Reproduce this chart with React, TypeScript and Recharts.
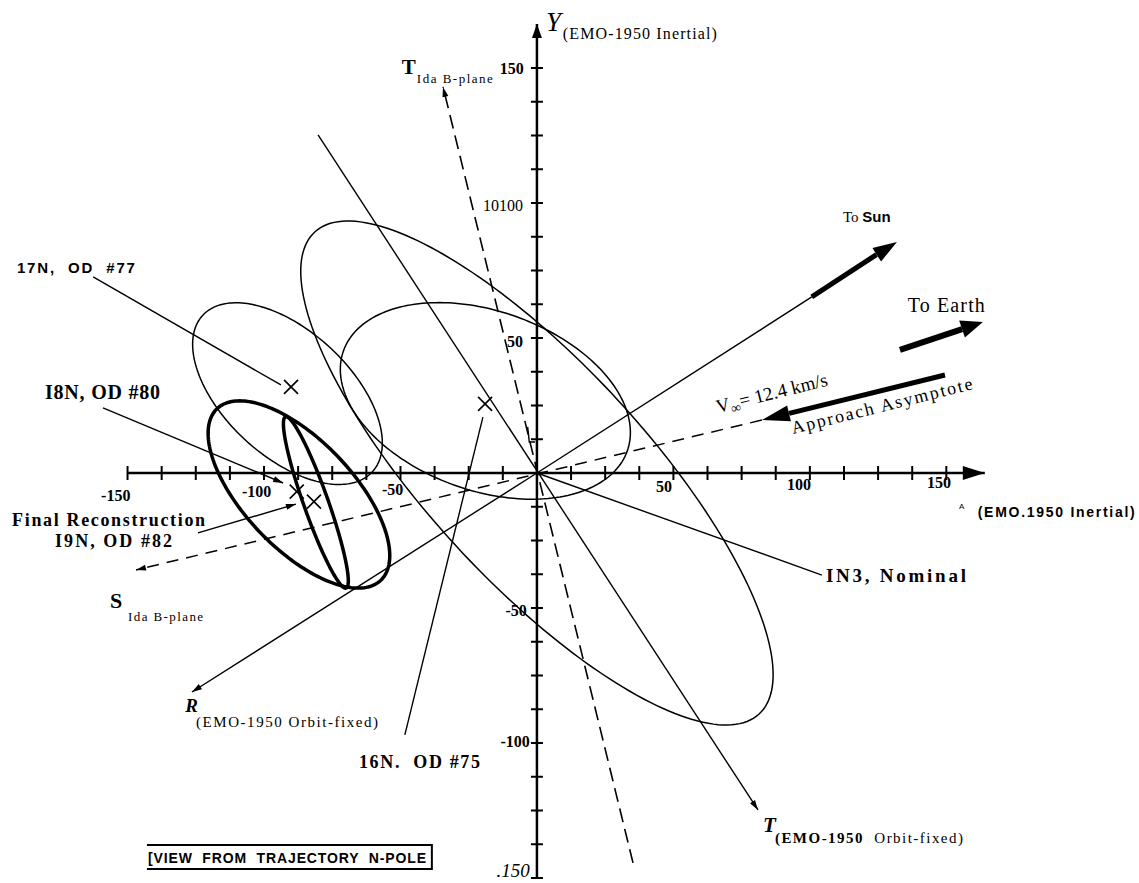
import React from 'react';
import { ComposedChart, Line, Scatter, XAxis, YAxis } from 'recharts';

const CHART_W = 1139;
const CHART_H = 883;
const MARGIN = { top: 14, right: 18, bottom: 5, left: 2 };
const X_DOMAIN: [number, number] = [-196, 214];
const Y_DOMAIN: [number, number] = [-150, 170];
const KX = (CHART_W - MARGIN.left - MARGIN.right) / (X_DOMAIN[1] - X_DOMAIN[0]);
const KY = (CHART_H - MARGIN.top - MARGIN.bottom) / (Y_DOMAIN[1] - Y_DOMAIN[0]);

const SERIF = '"Liberation Serif", "Times New Roman", serif';
const SANS = '"Liberation Sans", Arial, sans-serif';

// ---- axis ticks (km) ----
const xTicks = [-150, -137.5, -125, -112.5, -100, -87.5, -75, -62.5, -50, -37.5, -25, -12.5,
  12.5, 25, 37.5, 50, 62.5, 75, 87.5, 100, 112.5, 125, 137.5, 150];
const yTicks = [-150, -137.5, -125, -112.5, -100, -87.5, -75, -62.5, -50, -37.5, -25, -12.5,
  12.5, 25, 37.5, 50, 62.5, 75, 87.5, 100, 112.5, 125, 137.5, 150];

// ---- B-plane error ellipses (center, semi-axes in km, tilt in degrees) ----
const ellipseNames = ['IN3, Nominal', '16N, OD #75', '17N, OD #77', '18N, OD #80', '19N, OD #82'];
const ellipseCX = [0, -18.9, -91.4, -87.2, -81.0];
const ellipseCY = [0, 26.7, 29.4, -7.95, -10.9];
const ellipseA = [120.8, 55.2, 42.5, 43.7, 33.6];
const ellipseB = [40.1, 33.2, 23.1, 20.0, 4.5];
const ellipseTilt = [-47.7, -19.8, -43.3, -46.8, -70.7];
const ellipseKind = ['thin', 'thin', 'thin', 'bold', 'bold'];

// ---- aim-point solutions (X marks) ----
const solutionNames = ['16N, OD #75', '17N, OD #77', '18N, OD #80', '19N, OD #82'];
const solutionX = [-19.0, -90.1, -88.0, -81.7];
const solutionY = [25.6, 31.9, -6.9, -10.6];

// ---- straight lines (km) ----
type Seg = { id: string; pts: [number, number][]; kind: string };
const segments: Seg[] = [
  { id: 'X axis', pts: [[-150, 0], [164.1, 0]], kind: 'axis' },
  { id: 'Y axis', pts: [[0, -150], [0, 166.3]], kind: 'axis' },
  { id: 'T Ida B-plane', pts: [[35.2, -144.4], [-34.4, 143]], kind: 'dashT' },
  { id: 'T Ida mark', pts: [[-3.4, 17.1], [-2.8, 11.5], [-0.7, 11.5]], kind: 'thin' },
  { id: 'T orbit-fixed', pts: [[-80.2, 125.2], [81, -124.8]], kind: 'thin' },
  { id: 'R orbit-fixed', pts: [[0, 0], [-126.4, -81.1]], kind: 'thin' },
  { id: 'S Ida B-plane / asymptote', pts: [[82.4, 19.6], [-146.9, -35.9]], kind: 'dashS' },
  { id: 'To Sun', pts: [[0, 0], [100.7, 65.2]], kind: 'thin' },
  { id: 'To Sun shaft', pts: [[100.7, 65.2], [124.4, 80.9]], kind: 'thick' },
  { id: 'To Earth shaft', pts: [[133, 45.6], [155.8, 53.3]], kind: 'thicker' },
  { id: 'Approach shaft', pts: [[149.5, 36.3], [92.4, 22.1]], kind: 'thick' },
  { id: 'IN3 leader', pts: [[0, 0], [104.4, -37.8]], kind: 'thin' },
  { id: '16N leader', pts: [[-48.4, -97], [-19.8, 20.7]], kind: 'thin' },
  { id: '17N leader', pts: [[-162.6, 72.6], [-93.8, 32.6]], kind: 'thin' },
  { id: '18N leader', pts: [[-159, 24.1], [-93, -3.7]], kind: 'thin' },
  { id: '19N leader', pts: [[-124.2, -22.2], [-88.3, -11.5]], kind: 'thin' },
  { id: 'view box', pts: [[-142.9, -137.8], [-38.5, -137.8], [-38.5, -146.7], [-142.9, -146.7]], kind: 'box' },
];

// ---- arrow heads: tip and the point they come from ----
const arrows = [
  { x: 164.1, y: 0, fx: 0, fy: 0, kind: 'axisX' },
  { x: 0, y: 166.3, fx: 0, fy: 0, kind: 'axisY' },
  { x: -34.4, y: 143, fx: 0, fy: 0, kind: 'small' },
  { x: 81, y: -124.8, fx: 0, fy: 0, kind: 'small' },
  { x: -126.4, y: -81.1, fx: 0, fy: 0, kind: 'small' },
  { x: -146.9, y: -35.9, fx: 0, fy: 0, kind: 'small' },
  { x: 131.9, y: 85.6, fx: 0, fy: 0, kind: 'sun' },
  { x: 163.4, y: 55.9, fx: 133, fy: 45.6, kind: 'earth' },
  { x: 82.4, y: 19.6, fx: 149.5, fy: 36.3, kind: 'approach' },
  { x: -93, y: -3.7, fx: -159, fy: 24.1, kind: 'small' },
  { x: -88.3, y: -11.5, fx: -124.2, fy: -22.2, kind: 'small' },
];

// ---- text annotations ----
type Run = { t: string; size?: number; weight?: string; family?: string; dy?: number };
type Label = { x: number; y: number; text?: string; runs?: Run[]; style: string; anchor?: 'start' | 'end'; len?: number; rot?: number; dy?: number };
const xTickLabels: Label[] = [
  { x: -159.7, y: -10.4, text: '-150', style: 'tick' },
  { x: -108.1, y: -8.9, text: '-100', style: 'tick' },
  { x: -56.8, y: -8.1, text: '-50', style: 'tick' },
  { x: 43.6, y: -7.0, text: '50', style: 'tick' },
  { x: 91.6, y: -6.3, text: '100', style: 'tick' },
  { x: 142.9, y: -5.6, text: '150', style: 'tick' },
];
const yTickLabels: Label[] = [
  { x: -4.8, y: 147.8, text: '150', style: 'tick', anchor: 'end' },
  { x: -5.1, y: 97.0, text: '10100', style: 'tickPlain', anchor: 'end' },
  { x: -5.1, y: 46.7, text: '50', style: 'tick', anchor: 'end' },
  { x: -3.7, y: -53.0, text: '-50', style: 'tick', anchor: 'end' },
  { x: -2.6, y: -101.5, text: '-100', style: 'tick', anchor: 'end' },
  { x: -2.6, y: -150, text: '.150', style: 'tickItalic', anchor: 'end', dy: -1 },
];
const annotations: Label[] = [
  { x: 3.3, y: 163.7, text: 'Y', style: 'axisY' },
  { x: 9.5, y: 160.7, text: '(EMO-1950 Inertial)', style: 'sub', len: 154 },
  { x: -49.5, y: 147.8, text: 'T', style: 'axisTIda' },
  { x: -44.0, y: 144.4, text: 'Ida B-plane', style: 'subSmall', len: 76 },
  { x: 154.6, y: -13.3, text: 'A', style: 'tiny' },
  { x: 161.5, y: -16.3, text: '(EMO.1950 Inertial)', style: 'sansBold', len: 157 },
  { x: 112.1, y: 93.0, runs: [{ t: 'To ' }, { t: 'Sun', family: SANS, weight: 'bold' }], style: 'toSun' },
  { x: 135.9, y: 59.6, text: 'To Earth', style: 'note', len: 77 },
  { x: 66.3, y: 22.2, runs: [{ t: 'V' }, { t: '\u221E', size: 14, dy: 4 }, { t: '= 12.4 km/s', dy: -4 }], style: 'noteRot19', rot: -14 },
  { x: 93.8, y: 14.4, text: 'Approach Asymptote', style: 'noteRot', rot: -14, len: 186 },
  { x: -147.3, y: 74.1, text: '17N,  OD  #77', style: 'caseSans', anchor: 'end', len: 118 },
  { x: -138.1, y: 27.4, text: 'I8N, OD #80', style: 'caseBold', anchor: 'end', len: 115 },
  { x: -121.6, y: -19.6, text: 'Final Reconstruction', style: 'caseBold18', anchor: 'end', len: 193 },
  { x: -133.7, y: -27.4, text: 'I9N, OD #82', style: 'caseBold18', anchor: 'end', len: 117 },
  { x: -156.4, y: -50, text: 'S', style: 'axisS' },
  { x: -149.8, y: -54.8, text: 'Ida B-plane', style: 'subSmall', len: 75 },
  { x: -128.9, y: -88.5, text: 'R', style: 'axisR' },
  { x: -124.9, y: -94.1, text: '(EMO-1950 Orbit-fixed)', style: 'sub15', len: 182 },
  { x: -65.2, y: -109.3, text: '16N.  OD #75', style: 'caseBold18', len: 121 },
  { x: 105.9, y: -40.4, text: 'IN3, Nominal', style: 'caseBold19', len: 140 },
  { x: 82.8, y: -133, text: 'T', style: 'axisT' },
  { x: 87.2, y: -137, runs: [{ t: '(EMO-1950  ', weight: 'bold' }, { t: 'Orbit-fixed)' }], style: 'sub15', len: 188 },
  { x: -142.5, y: -144.4, text: '[VIEW  FROM  TRAJECTORY  N-POLE', style: 'sansBold13', len: 278 },
];

// ---- styles ----
const LINE_STYLES: Record<string, { w: number; dash?: string }> = {
  axis: { w: 2.5 },
  thin: { w: 1.4 },
  dashT: { w: 1.6, dash: '14 7' },
  dashS: { w: 1.5, dash: '12 8' },
  thick: { w: 5 },
  thicker: { w: 6 },
  box: { w: 2 },
};
const ELLIPSE_W: Record<string, number> = { thin: 1.5, bold: 3.5 };
const ARROW_SIZES: Record<string, { len: number; w: number }> = {
  axisX: { len: 22, w: 14 },
  axisY: { len: 14, w: 10 },
  small: { len: 10, w: 6 },
  sun: { len: 24, w: 16 },
  earth: { len: 22, w: 18 },
  approach: { len: 28, w: 16 },
};
const LABEL_STYLES: Record<string, { family: string; size: number; weight?: string; italic?: boolean }> = {
  tick: { family: SERIF, size: 16, weight: 'bold' },
  tickPlain: { family: SERIF, size: 16 },
  tickItalic: { family: SERIF, size: 19, italic: true },
  axisY: { family: SERIF, size: 27, italic: true },
  axisTIda: { family: SERIF, size: 21, weight: 'bold' },
  axisT: { family: SERIF, size: 21, weight: 'bold', italic: true },
  axisR: { family: SERIF, size: 19, weight: 'bold', italic: true },
  axisS: { family: SERIF, size: 22, weight: 'bold' },
  sub: { family: SERIF, size: 16 },
  sub15: { family: SERIF, size: 15 },
  subSmall: { family: SERIF, size: 13 },
  tiny: { family: SANS, size: 8 },
  sansBold: { family: SANS, size: 14, weight: 'bold' },
  sansBold13: { family: SANS, size: 14, weight: 'bold' },
  toSun: { family: SERIF, size: 15 },
  note: { family: SERIF, size: 20 },
  noteRot: { family: SERIF, size: 18 },
  noteRot19: { family: SERIF, size: 19 },
  caseSans: { family: SANS, size: 15, weight: 'bold' },
  caseBold: { family: SERIF, size: 20, weight: 'bold' },
  caseBold18: { family: SERIF, size: 18, weight: 'bold' },
  caseBold19: { family: SERIF, size: 19, weight: 'bold' },
};

function ellipseOutline(i: number) {
  const th = (ellipseTilt[i] * Math.PI) / 180;
  const pts: { x: number; y: number }[] = [];
  const n = 200;
  for (let k = 0; k <= n; k++) {
    const t = (k / n) * Math.PI * 2;
    const ex = ellipseA[i] * Math.cos(t);
    const ey = ellipseB[i] * Math.sin(t);
    pts.push({
      x: ellipseCX[i] + ex * Math.cos(th) - ey * Math.sin(th),
      y: ellipseCY[i] + ex * Math.sin(th) + ey * Math.cos(th),
    });
  }
  return pts;
}

const solutionData = solutionX.map((x, i) => ({ x, y: solutionY[i], name: solutionNames[i] }));
const xTickData = xTicks.map((x) => ({ x, y: 0 }));
const yTickData = yTicks.map((y) => ({ x: 0, y }));
const allLabels = [...xTickLabels, ...yTickLabels, ...annotations];

const CrossShape = (p: any) => (
  <g>
    <line x1={p.cx - 7} y1={p.cy - 7} x2={p.cx + 7} y2={p.cy + 7} stroke="#000" strokeWidth={1.6} />
    <line x1={p.cx - 7} y1={p.cy + 7} x2={p.cx + 7} y2={p.cy - 7} stroke="#000" strokeWidth={1.6} />
  </g>
);
const XTickShape = (p: any) => (
  <line x1={p.cx} y1={p.cy - 7} x2={p.cx} y2={p.cy + 7} stroke="#000" strokeWidth={2} />
);
const YTickShape = (p: any) => (
  <line x1={p.cx - 6} y1={p.cy} x2={p.cx + 6} y2={p.cy} stroke="#000" strokeWidth={2} />
);
const ArrowShape = (p: any) => {
  const d = p.payload;
  const sz = ARROW_SIZES[d.kind];
  const sdx = (d.x - d.fx) * KX;
  const sdy = -(d.y - d.fy) * KY;
  const ang = (Math.atan2(sdy, sdx) * 180) / Math.PI;
  return (
    <polygon
      points={`0,0 ${-sz.len},${-sz.w / 2} ${-sz.len},${sz.w / 2}`}
      transform={`translate(${p.cx},${p.cy}) rotate(${ang})`}
      fill="#000"
    />
  );
};
const LabelShape = (p: any) => {
  const d: Label = p.payload;
  const st = LABEL_STYLES[d.style];
  const x = p.cx;
  const y = p.cy + (d.dy || 0);
  return (
    <text
      x={x}
      y={y}
      fontFamily={st.family}
      fontSize={st.size}
      fontWeight={st.weight || 'normal'}
      fontStyle={st.italic ? 'italic' : 'normal'}
      textAnchor={d.anchor || 'start'}
      fill="#000"
      style={{ whiteSpace: 'pre' }}
      textLength={d.len}
      lengthAdjust={d.len ? 'spacing' : undefined}
      transform={d.rot ? `rotate(${d.rot} ${x} ${y})` : undefined}
    >
      {d.runs
        ? d.runs.map((r, i) => (
            <tspan
              key={i}
              fontSize={r.size}
              fontWeight={r.weight}
              fontFamily={r.family}
              dy={r.dy}
            >
              {r.t}
            </tspan>
          ))
        : d.text}
    </text>
  );
};

export default function App() {
  return (
    <div style={{ position: 'absolute', left: 0, top: 0, background: '#fff' }}>
      <ComposedChart width={CHART_W} height={CHART_H} margin={MARGIN}>
        <XAxis type="number" dataKey="x" domain={X_DOMAIN} hide />
        <YAxis type="number" dataKey="y" domain={Y_DOMAIN} hide />
        {ellipseNames.map((name, i) => (
          <Line
            key={`e-${i}`}
            name={name}
            data={ellipseOutline(i)}
            dataKey="y"
            type="linear"
            stroke="#000"
            strokeWidth={ELLIPSE_W[ellipseKind[i]]}
            dot={false}
            activeDot={false}
            isAnimationActive={false}
            legendType="none"
          />
        ))}
        {segments.map((s) => {
          const st = LINE_STYLES[s.kind];
          return (
            <Line
              key={s.id}
              name={s.id}
              data={s.pts.map(([x, y]) => ({ x, y }))}
              dataKey="y"
              type="linear"
              stroke="#000"
              strokeWidth={st.w}
              strokeDasharray={st.dash}
              dot={false}
              activeDot={false}
              isAnimationActive={false}
              legendType="none"
            />
          );
        })}
        <Scatter data={xTickData} shape={XTickShape} isAnimationActive={false} legendType="none" />
        <Scatter data={yTickData} shape={YTickShape} isAnimationActive={false} legendType="none" />
        <Scatter data={arrows} shape={ArrowShape} isAnimationActive={false} legendType="none" />
        <Scatter data={solutionData} shape={CrossShape} isAnimationActive={false} legendType="none" />
        <Scatter data={allLabels} shape={LabelShape} isAnimationActive={false} legendType="none" />
      </ComposedChart>
    </div>
  );
}
